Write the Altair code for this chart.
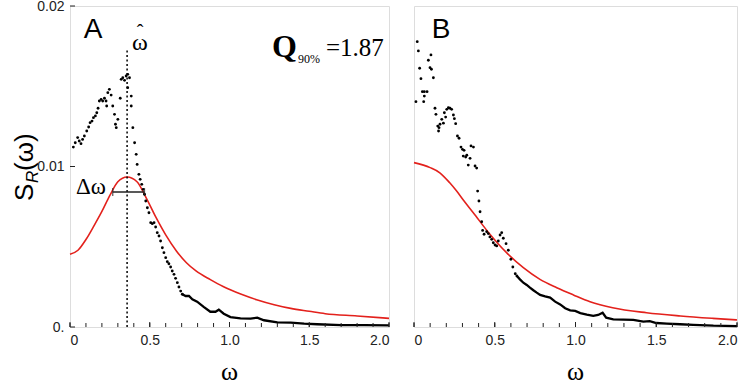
import altair as alt
import pandas as pd

# ---------------- data ----------------
# Panel A: sparse spectrum estimate (dots)
a_dot_w = [0.021, 0.033, 0.048, 0.058, 0.069, 0.079, 0.09, 0.105, 0.117, 0.126,
           0.138, 0.147, 0.159, 0.168, 0.176, 0.184, 0.195, 0.205, 0.216, 0.226,
           0.23, 0.237, 0.247, 0.258, 0.268, 0.279, 0.285, 0.29, 0.3, 0.315,
           0.321, 0.331, 0.342, 0.352, 0.362, 0.362, 0.373, 0.384, 0.384, 0.394,
           0.405, 0.415, 0.421, 0.432, 0.44, 0.45, 0.459, 0.467, 0.475, 0.485,
           0.495, 0.506, 0.516, 0.527, 0.537, 0.547, 0.558, 0.568, 0.579, 0.589,
           0.6, 0.61, 0.62, 0.631, 0.641, 0.652, 0.662, 0.673, 0.683, 0.694, 0.704]
a_dot_s = [0.01121, 0.01148, 0.0118, 0.01159, 0.01142, 0.01169, 0.0119, 0.01221, 0.01246, 0.01273,
           0.01283, 0.01304, 0.01315, 0.01335, 0.01363, 0.01408, 0.01418, 0.01408, 0.01425, 0.01408,
           0.01377, 0.0146, 0.01481, 0.01445, 0.01377, 0.01325, 0.01263, 0.01242, 0.01294, 0.01425,
           0.01543, 0.01553, 0.01537, 0.01564, 0.01574, 0.01491, 0.01553, 0.01439, 0.01377, 0.01242,
           0.01148, 0.01076, 0.01013, 0.00951, 0.0092, 0.00889, 0.00858, 0.00827, 0.00785, 0.00743,
           0.00712, 0.0065, 0.00644, 0.0065, 0.00623, 0.00588, 0.00567, 0.00536, 0.00494, 0.00463,
           0.00432, 0.00407, 0.00394, 0.00374, 0.00349, 0.00328, 0.00303, 0.00276, 0.00249, 0.00224, 0.00204]
# Panel A: dense tail of the estimate
a_tail_w = [0.704, 0.725, 0.746, 0.767, 0.797, 0.838, 0.88, 0.912, 0.933, 0.964, 1.006,
            1.069, 1.132, 1.174, 1.216, 1.3, 1.384, 1.468, 1.55, 1.7, 1.845, 2.0]
a_tail_s = [0.00204, 0.00193, 0.00193, 0.00173, 0.00158, 0.00125, 0.00095, 0.00095, 0.00108, 0.00083, 0.00062,
            0.00054, 0.00052, 0.00058, 0.00042, 0.00029, 0.00027, 0.00021, 0.00017, 0.00012, 0.00012, 0.0001]
# Panel A: fitted spectrum (red)
a_fit_w = [0, 0.05, 0.1, 0.15, 0.2, 0.25, 0.3, 0.358, 0.42, 0.48, 0.54, 0.6, 0.667,
           0.73, 0.79, 0.88, 0.96, 1.07, 1.17, 1.28, 1.384, 1.5, 1.6, 1.8, 2.0]
a_fit_s = [0.00453, 0.00478, 0.00545, 0.0063, 0.0072, 0.0082, 0.00905, 0.00935, 0.00905, 0.008,
           0.00681, 0.00574, 0.00474, 0.004, 0.00349, 0.00295, 0.00252, 0.00205, 0.0017, 0.00139,
           0.00116, 0.00098, 0.00083, 0.00069, 0.00054]

# Panel B
b_dot_w = [0.012, 0.02, 0.027, 0.035, 0.043, 0.052, 0.06, 0.064, 0.064, 0.081,
           0.089, 0.099, 0.105, 0.108, 0.12, 0.13, 0.136, 0.147, 0.152, 0.155,
           0.161, 0.172, 0.182, 0.188, 0.196, 0.203, 0.213, 0.223, 0.233, 0.244,
           0.25, 0.258, 0.269, 0.279, 0.291, 0.3, 0.305, 0.31, 0.32, 0.327,
           0.336, 0.347, 0.353, 0.368, 0.378, 0.388, 0.394, 0.402, 0.409, 0.419,
           0.425, 0.434, 0.45, 0.46, 0.47, 0.481, 0.491, 0.502, 0.512, 0.522,
           0.533, 0.543, 0.553, 0.57, 0.584, 0.6, 0.612, 0.627, 0.637]
b_dot_s = [0.01404, 0.01778, 0.0172, 0.01612, 0.01547, 0.01466, 0.01404, 0.01466, 0.01439, 0.01466,
           0.01662, 0.01616, 0.01695, 0.01606, 0.01553, 0.01363, 0.01325, 0.01252, 0.01221, 0.01242,
           0.01263, 0.01294, 0.0127, 0.01335, 0.01308, 0.01356, 0.01366, 0.01363, 0.01356, 0.01321,
           0.01298, 0.01267, 0.0119, 0.01176, 0.01121, 0.01107, 0.01065, 0.01101, 0.01059, 0.0107,
           0.01009, 0.01051, 0.01128, 0.01121, 0.01003, 0.0099, 0.00847, 0.00785, 0.00718, 0.00656,
           0.00602, 0.00578, 0.00594, 0.00582, 0.00561, 0.00546, 0.00525, 0.00511, 0.00505, 0.00536,
           0.00573, 0.00588, 0.00553, 0.00519, 0.00478, 0.00422, 0.00374, 0.00332, 0.00318]
b_tail_w = [0.637, 0.656, 0.677, 0.698, 0.718, 0.739, 0.76, 0.781, 0.812, 0.843, 0.874,
            0.905, 0.936, 0.967, 0.998, 1.03, 1.07, 1.11, 1.14, 1.168, 1.19, 1.234,
            1.296, 1.358, 1.42, 1.46, 1.5, 1.565, 1.648, 1.73, 1.854, 2.0]
b_tail_s = [0.00318, 0.00297, 0.00276, 0.00262, 0.00245, 0.00229, 0.00214, 0.002, 0.00191, 0.00183, 0.00158,
            0.00141, 0.00117, 0.00104, 0.001, 0.00087, 0.00077, 0.00069, 0.00075, 0.00089, 0.00058, 0.00048,
            0.00046, 0.00044, 0.00033, 0.00037, 0.00025, 0.00021, 0.00017, 0.00013, 0.00008, 0.00006]
b_fit_w = [0, 0.1, 0.16, 0.22, 0.264, 0.31, 0.367, 0.47, 0.573, 0.677, 0.78, 0.884,
           0.987, 1.09, 1.23, 1.44, 1.65, 1.85, 2.0]
b_fit_s = [0.01024, 0.00993, 0.00961, 0.009, 0.00847, 0.00785, 0.00712, 0.00578, 0.00463, 0.0037,
           0.00297, 0.00245, 0.002, 0.00158, 0.0012, 0.00089, 0.00069, 0.00054, 0.00044]

# peak frequency, its marker height, and the width bar
peak_w = [0.358]
peak_top = [0.0173]
width_w = [0.268, 0.467]
width_s = [0.00841]

x_ticks = [0.0, 0.5, 1.0, 1.5, 2.0]
x_minor = [round(i * 0.1, 1) for i in range(21)]
y_ticks = [0.0, 0.01, 0.02]

# ---------------- styling ----------------
W_A, W_B, H = 319, 323, 321
INK = "#222222"
RED = "#e3211c"
SANS = "Liberation Sans"
SERIF = "Liberation Serif"

x_axis = alt.Axis(values=x_ticks, ticks=False, domain=False, grid=False, title=None,
                  labelExpr="datum.value == 0 ? '0' : format(datum.value, '.1f')",
                  labelFont=SANS, labelFontSize=14, labelColor=INK, labelPadding=6)
y_axis_a = alt.Axis(values=y_ticks, ticks=False, domain=False, grid=False, title=None,
                    labelExpr="datum.value == 0 ? '0.' : format(datum.value, '.2f')",
                    labelFont=SANS, labelFontSize=14, labelColor=INK, labelPadding=6)

xs = alt.Scale(domain=[0, 2], nice=False, zero=False)
ys = alt.Scale(domain=[0, 0.02], nice=False)


def X(field, axis):
    return alt.X(field, type="quantitative", scale=xs, axis=axis)


def Y(field, axis):
    return alt.Y(field, type="quantitative", scale=ys, axis=axis)


def label(text, x, y, **kw):
    kw.setdefault("baseline", "alphabetic")
    kw.setdefault("color", "black")
    return alt.Chart(pd.DataFrame({"t": [text]})).mark_text(**kw).encode(
        x=alt.value(x), y=alt.value(y), text="t:N")


def panel(dot_w, dot_s, tail_w, tail_s, fit_w, fit_s, y_axis):
    dots = alt.Chart(pd.DataFrame({"w": dot_w, "s": dot_s})).mark_circle(
        size=8, color="black", opacity=1).encode(x=X("w", x_axis), y=Y("s", y_axis))
    tail = alt.Chart(pd.DataFrame({"w": tail_w, "s": tail_s})).mark_line(
        color="black", strokeWidth=2.3).encode(x=X("w", x_axis), y=Y("s", y_axis))
    fit = alt.Chart(pd.DataFrame({"w": fit_w, "s": fit_s})).mark_line(
        color=RED, strokeWidth=1.6, interpolate="monotone").encode(
        x=X("w", x_axis), y=Y("s", y_axis))
    minor = alt.Chart(pd.DataFrame({"t": x_minor})).mark_rule(
        color=INK, strokeWidth=1).encode(
        x=X("t", x_axis), y=alt.value(H), y2=alt.value(H - 4))
    xt = alt.Chart(pd.DataFrame({"t": x_ticks})).mark_rule(
        color=INK, strokeWidth=1).encode(
        x=X("t", x_axis), y=alt.value(H), y2=alt.value(H - 5))
    return [fit, tail, dots, minor, xt]


# ---------------- panel A ----------------
layers_a = panel(a_dot_w, a_dot_s, a_tail_w, a_tail_s, a_fit_w, a_fit_s, y_axis_a)
peak = alt.Chart(pd.DataFrame({"w": peak_w, "lo": [0.0], "hi": peak_top})).mark_rule(
    color="black", strokeWidth=1.5, strokeDash=[2, 2.5]).encode(
    x=X("w", x_axis), y=Y("lo", y_axis_a), y2="hi")
bar = alt.Chart(pd.DataFrame({"w0": [width_w[0]], "w1": [width_w[1]], "s": width_s})).mark_rule(
    color=INK, strokeWidth=1.3).encode(x=X("w0", x_axis), x2="w1", y=Y("s", y_axis_a))
caps = alt.Chart(pd.DataFrame({"w": width_w, "s": width_s * 2})).mark_tick(
    color=INK, orient="vertical", size=8, thickness=1.3).encode(
    x=X("w", x_axis), y=Y("s", y_axis_a))
yt = alt.Chart(pd.DataFrame({"t": y_ticks})).mark_rule(color=INK, strokeWidth=1).encode(
    y=Y("t", y_axis_a), x=alt.value(0), x2=alt.value(5))

texts_a = [
    label("A", 23, 32, font=SANS, fontSize=28, align="center"),
    label("ω", 70, 44, font=SERIF, fontSize=24, align="center"),
    label("ˆ", 70, 33, font=SERIF, fontSize=20, align="center"),
    label("Q", 202, 51, font=SERIF, fontSize=32, fontWeight="bold", align="left"),
    label("90%", 228, 57, font=SERIF, fontSize=12, align="left"),
    label("=1.87", 256, 50, font=SERIF, fontSize=25, align="left"),
    label("Δω", 6, 188, font=SERIF, fontSize=23, align="left"),
    # y-axis title S_R(ω), read bottom to top
    label("S", -37, 195, font=SANS, fontSize=26, angle=270, align="left"),
    label("R", -32, 177, font=SANS, fontSize=17, fontStyle="italic", angle=270, align="left"),
    label("(ω)", -37, 165, font=SANS, fontSize=26, angle=270, align="left"),
    label("ω", W_A / 2, 374, font=SERIF, fontSize=26, align="center"),
]

chart_a = alt.layer(*layers_a, peak, bar, caps, yt, *texts_a).properties(width=W_A, height=H)

# ---------------- panel B ----------------
layers_b = panel(b_dot_w, b_dot_s, b_tail_w, b_tail_s, b_fit_w, b_fit_s, None)
texts_b = [
    label("B", 27, 32, font=SANS, fontSize=28, align="center"),
    label("ω", W_B / 2, 374, font=SERIF, fontSize=26, align="center"),
]
chart_b = alt.layer(*layers_b, *texts_b).properties(width=W_B, height=H)

chart = alt.hconcat(chart_a, chart_b, spacing=25, bounds="flush").properties(
    padding={"left": 11, "top": -2, "right": 2, "bottom": 0}
).configure_view(stroke=INK, strokeWidth=1.6).configure(background="white")

chart.save("out.html", embed_options={"renderer": "svg", "actions": False})
